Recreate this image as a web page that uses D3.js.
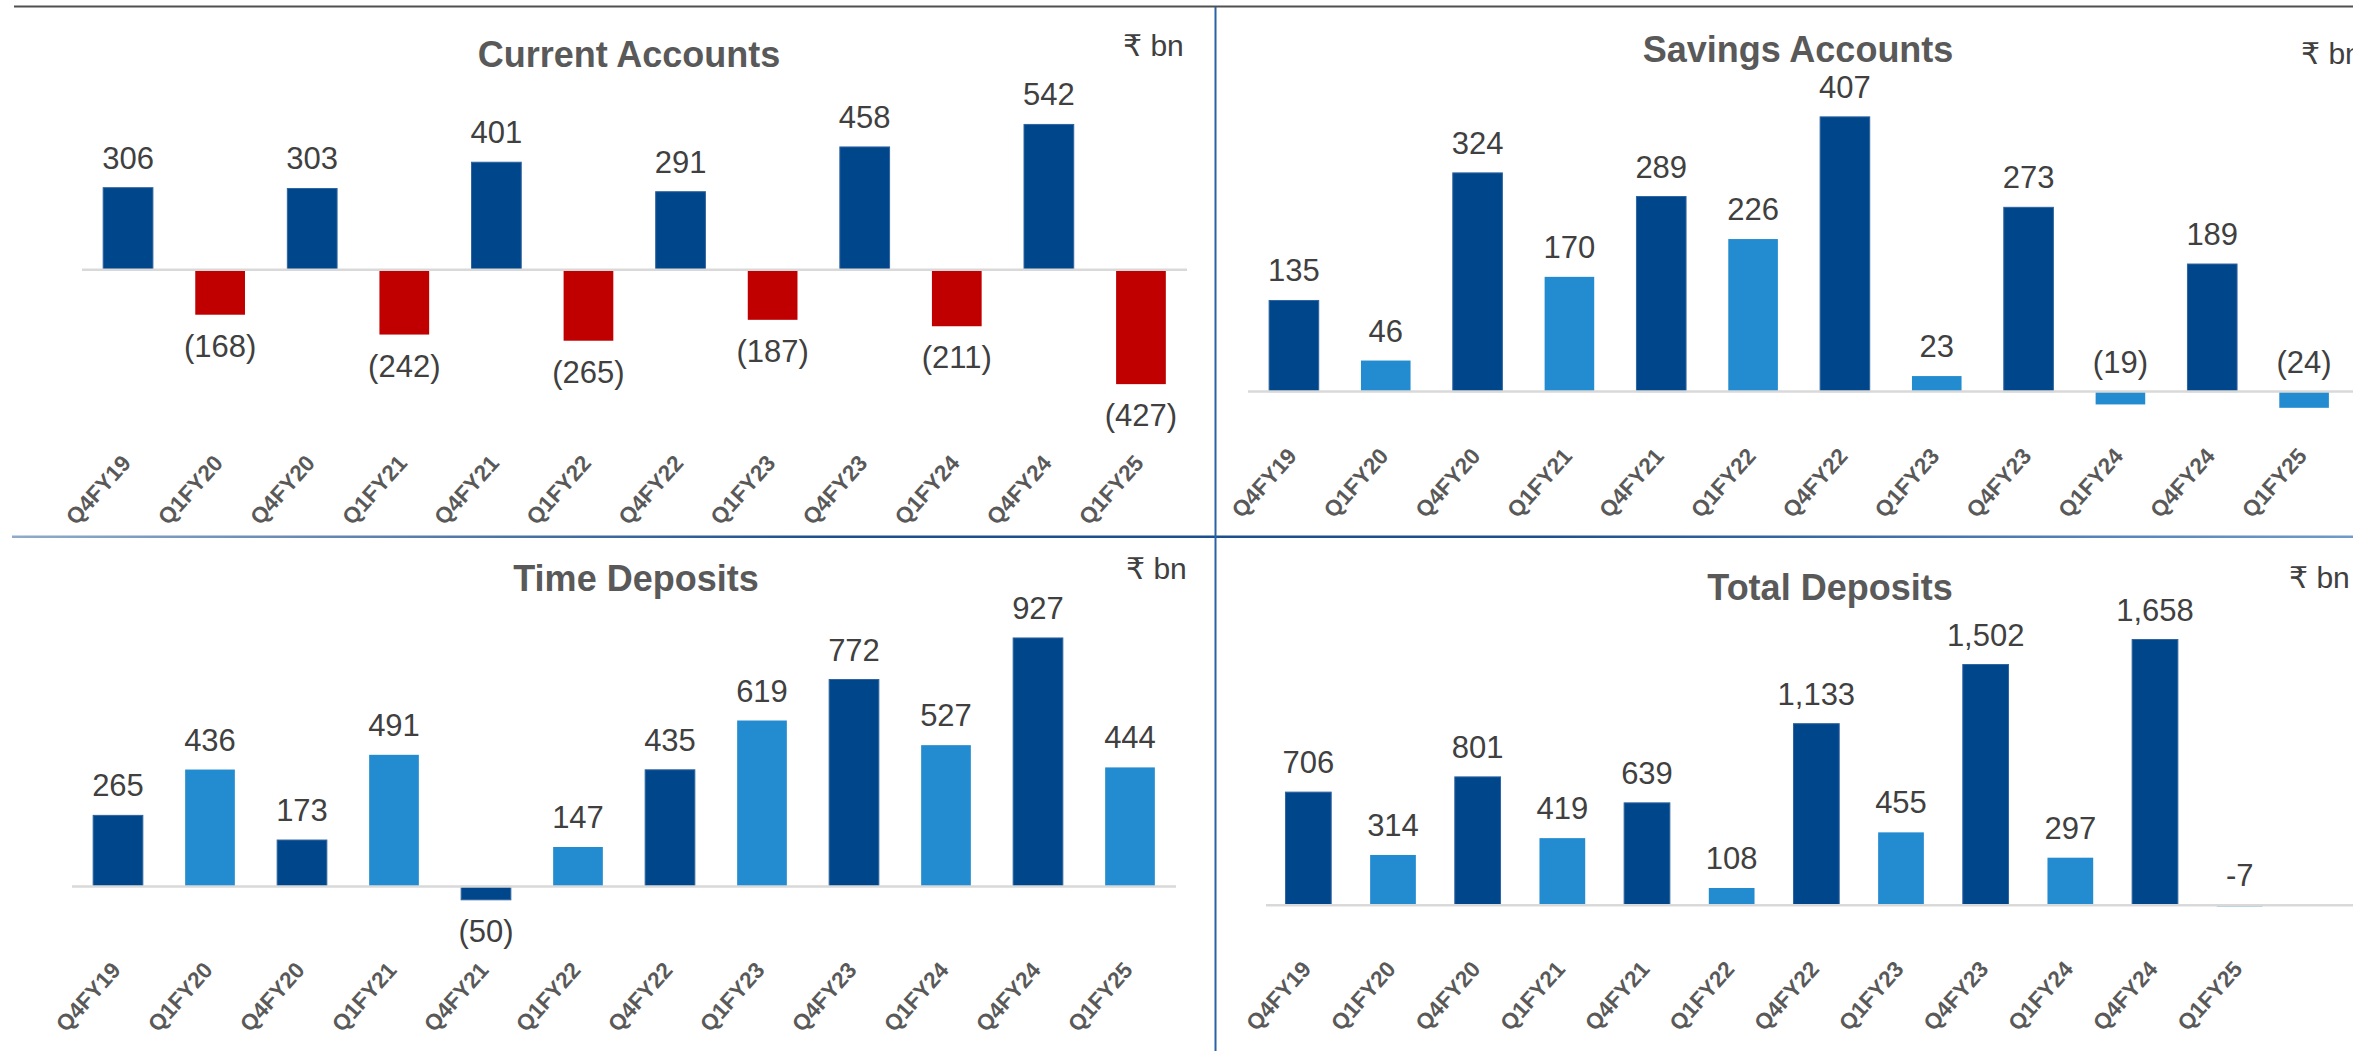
<!DOCTYPE html>
<html>
<head>
<meta charset="utf-8">
<script src="https://cdn.jsdelivr.net/npm/d3@7/dist/d3.min.js"></script>
<style>
  html, body { margin: 0; padding: 0; background: #ffffff; }
  svg { display: block; }
  text { font-family: "Liberation Sans", Arial, "DejaVu Sans", sans-serif; }
</style>
</head>
<body>
<svg id="chart" width="2353" height="1051"></svg>
<script>
// Quarterly net change in deposits, ₹ bn
const quarters = ["Q4FY19", "Q1FY20", "Q4FY20", "Q1FY21", "Q4FY21", "Q1FY22",
                  "Q4FY22", "Q1FY23", "Q4FY23", "Q1FY24", "Q4FY24", "Q1FY25"];
const currentAccounts = [306, -168, 303, -242, 401, -265, 291, -187, 458, -211, 542, -427];
const savingsAccounts = [135, 46, 324, 170, 289, 226, 407, 23, 273, -19, 189, -24];
const timeDeposits    = [265, 436, 173, 491, -50, 147, 435, 619, 772, 527, 927, 444];
const totalDeposits   = [706, 314, 801, 419, 639, 108, 1133, 455, 1502, 297, 1658, -7];
const unitLabel = "₹ bn";

const DARK = "#00468A", LIGHT = "#238BCF", RED = "#C00000";
const parenFmt = v => v < 0 ? "(" + d3.format(",")(-v) + ")" : d3.format(",")(v);
const minusFmt = v => v < 0 ? "-" + d3.format(",")(-v) : d3.format(",")(v);

const panels = [
  { title: "Current Accounts", values: currentAccounts, x0: 82, x1: 1187, lineEnd: 1187,
    zero: 269.7, k: 0.268, titleX: 629, titleY: 67, unitX: 1123, unitY: 56, axisY: 464,
    negBelow: true, fmt: parenFmt, q1Color: RED },
  { title: "Savings Accounts", values: savingsAccounts, x0: 1248, x1: 2350, lineEnd: 2353,
    zero: 391.6, k: 0.675, titleX: 1798, titleY: 62, unitX: 2301, unitY: 64, axisY: 457,
    negBelow: false, fmt: parenFmt, q1Color: LIGHT },
  { title: "Time Deposits", values: timeDeposits, x0: 72, x1: 1176, lineEnd: 1176,
    zero: 886.4, k: 0.268, titleX: 636, titleY: 591, unitX: 1126, unitY: 579, axisY: 971,
    negBelow: true, fmt: parenFmt, q1Color: LIGHT },
  { title: "Total Deposits", values: totalDeposits, x0: 1266, x1: 2282, lineEnd: 2353,
    zero: 905.3, k: 0.1603, titleX: 1830, titleY: 600, unitX: 2289, unitY: 588, axisY: 970,
    negBelow: false, fmt: minusFmt, q1Color: LIGHT }
];

const svg = d3.select("#chart");
const defs = svg.append("defs");
const grad = defs.append("linearGradient").attr("id", "divider")
  .attr("x1", "0%").attr("x2", "100%").attr("y1", "0%").attr("y2", "0%");
grad.append("stop").attr("offset", "0%").attr("stop-color", "#8fabc9");
grad.append("stop").attr("offset", "35%").attr("stop-color", "#1d4f8e");
grad.append("stop").attr("offset", "65%").attr("stop-color", "#1d4f8e");
grad.append("stop").attr("offset", "100%").attr("stop-color", "#6f9acb");

// frame lines
svg.append("line").attr("x1", 14).attr("x2", 2353).attr("y1", 6.5).attr("y2", 6.5)
  .attr("stroke", "#505050").attr("stroke-width", 2.2);
svg.append("rect").attr("x", 12).attr("y", 535.5).attr("width", 2341).attr("height", 2.5)
  .attr("fill", "url(#divider)");
svg.append("line").attr("x1", 1215.5).attr("x2", 1215.5).attr("y1", 7).attr("y2", 1051)
  .attr("stroke", "#2a62a3").attr("stroke-width", 2);

panels.forEach(p => {
  const g = svg.append("g");
  const x = d3.scaleBand().domain(quarters).range([p.x0, p.x1])
    .paddingInner(0.46).paddingOuter(0.23);
  const y = d3.scaleLinear().domain([0, 1000]).range([p.zero, p.zero - 1000 * p.k]);
  const data = quarters.map((q, i) => ({ q, v: p.values[i] }));
  const colorOf = d => d.q.startsWith("Q4") ? DARK : p.q1Color;

  g.selectAll("rect.bar").data(data).join("rect")
    .attr("class", "bar")
    .attr("x", d => x(d.q))
    .attr("width", x.bandwidth())
    .attr("y", d => Math.min(y(d.v), y(0)))
    .attr("height", d => Math.abs(y(d.v) - y(0)))
    .attr("fill", colorOf)
    .attr("stroke", d => colorOf(d) === DARK ? "#2f64a0" : "none")
    .attr("stroke-width", 1);

  // zero line
  g.append("line").attr("x1", p.x0).attr("x2", p.lineEnd)
    .attr("y1", y(0)).attr("y2", y(0))
    .attr("stroke", "#d9d9d9").attr("stroke-width", 2.5);

  // value labels
  g.selectAll("text.val").data(data).join("text")
    .attr("class", "val")
    .attr("x", d => x(d.q) + x.bandwidth() / 2)
    .attr("y", d => (d.v < 0 && p.negBelow) ? y(d.v) + 42 : Math.min(y(d.v), y(0)) - 19)
    .attr("text-anchor", "middle")
    .attr("font-size", 31)
    .attr("fill", "#404040")
    .text(d => p.fmt(d.v));

  // category labels
  g.selectAll("text.cat").data(quarters).join("text")
    .attr("class", "cat")
    .attr("transform", q => `translate(${x(q) + x.bandwidth() / 2 + 4},${p.axisY}) rotate(-48)`)
    .attr("text-anchor", "end")
    .attr("font-size", 22.5)
    .attr("font-weight", "bold")
    .attr("fill", "#595959")
    .text(q => q);

  // title and unit
  g.append("text").attr("x", p.titleX).attr("y", p.titleY)
    .attr("text-anchor", "middle").attr("font-size", 36).attr("font-weight", "bold")
    .attr("fill", "#595959").text(p.title);
  g.append("text").attr("x", p.unitX).attr("y", p.unitY)
    .attr("font-size", 30).attr("fill", "#404040").text(unitLabel);
});
</script>
</body>
</html>
